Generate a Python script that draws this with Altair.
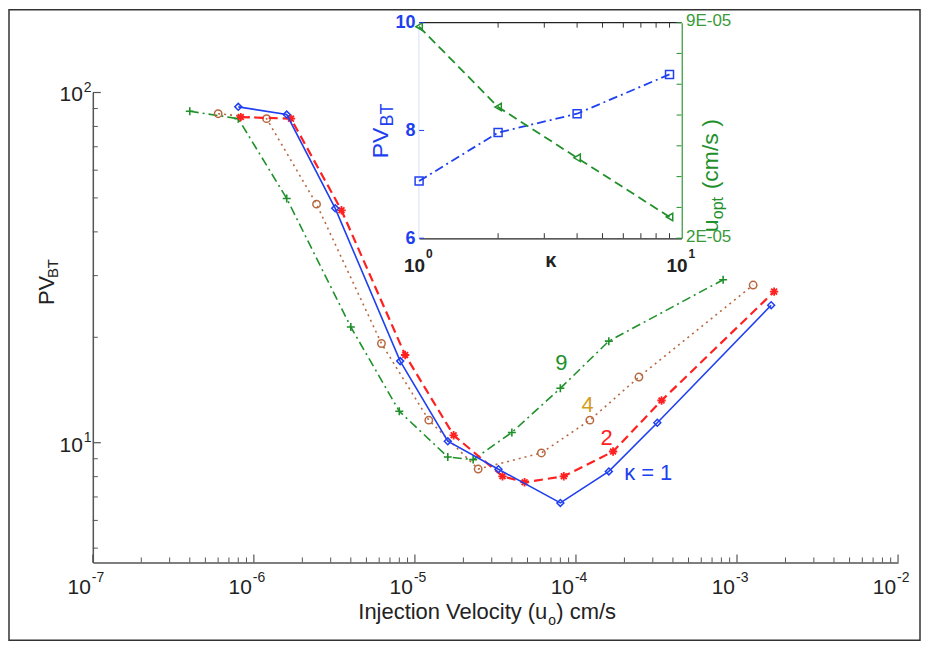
import altair as alt
import pandas as pd

# ---------------- main panel data ----------------
u_k1 = [8.0e-7, 1.6e-6, 3.2e-6, 8.1e-6, 1.6e-5, 3.3e-5, 8.0e-5, 1.6e-4, 3.2e-4, 1.63e-3]
pv_k1 = [91.0, 86.5, 46.7, 17.1, 10.1, 8.4, 6.73, 8.28, 11.4, 24.7]

u_k2 = [8.3e-7, 1.7e-6, 3.5e-6, 8.7e-6, 1.74e-5, 3.5e-5, 4.8e-5, 8.4e-5, 1.7e-4, 3.4e-4, 1.7e-3]
pv_k2 = [85.1, 84.2, 46.1, 17.8, 10.5, 8.02, 7.71, 8.02, 9.44, 13.2, 27.0]

u_k4 = [6.0e-7, 1.2e-6, 2.45e-6, 6.2e-6, 1.22e-5, 2.47e-5, 6.1e-5, 1.22e-4, 2.46e-4, 1.26e-3]
pv_k4 = [87.0, 84.2, 48.0, 19.2, 11.6, 8.41, 9.35, 11.6, 15.4, 28.2]

u_k9 = [4.0e-7, 8.0e-7, 1.6e-6, 4.0e-6, 8.0e-6, 1.6e-5, 2.3e-5, 4.0e-5, 8.0e-5, 1.6e-4, 8.2e-4]
pv_k9 = [88.4, 84.2, 49.8, 21.4, 12.3, 9.10, 8.95, 10.7, 14.3, 19.5, 29.2]

# curve annotations
ann_text = ["9", "4", "2", "κ = 1"]
ann_u = [8.1e-5, 1.18e-4, 1.55e-4, 2.81e-4]
ann_pv = [16.9, 12.8, 10.3, 8.22]

# ---------------- inset data ----------------
kappa = [1, 2, 4, 9]
pv_opt = [7.06, 7.96, 8.31, 9.04]
u_opt = [8.87e-5, 6.26e-5, 4.61e-5, 2.69e-5]

# ---------------- tick labels ----------------
x_major = [1e-7, 1e-6, 1e-5, 1e-4, 1e-3, 1e-2]
x_major_exp = ["-7", "-6", "-5", "-4", "-3", "-2"]
x_minor = [m * 10.0 ** e for e in range(-7, -2) for m in range(2, 10)]
y_major = [10, 100]
y_major_exp = ["1", "2"]
y_minor = [5, 6, 7, 8, 9, 20, 30, 40, 50, 60, 70, 80, 90]
ix_major = [1, 10]
ix_major_exp = ["0", "1"]
ix_minor = [2, 3, 4, 5, 6, 7, 8, 9]
iy_pv_ticks = [6, 8, 10]
iy_u_ticks = [2e-5, 3e-5, 4e-5, 5e-5, 6e-5, 7e-5, 8e-5, 9e-5]

# ---------------- styling ----------------
W, H = 807, 471
FONT = "Liberation Sans, Arial, sans-serif"
BLUE = "#2040f0"
RED = "#ff2020"
BROWN = "#b8683f"
GREEN = "#20902a"
GOLD = "#d69c1c"
AXC = "#555555"
TXT = "#222222"
STAR = "M-1,0L1,0M0,-1L0,1M-0.7,-0.7L0.7,0.7M-0.7,0.7L0.7,-0.7"
PLUS = "M-1,0L1,0M0,-1L0,1"

xs = alt.Scale(type="log", domain=[1e-7, 1e-2], nice=False)
ys = alt.Scale(type="log", domain=[4.55, 100], nice=False)
ixs = alt.Scale(type="log", domain=[1, 10], range=[327, 590], nice=False)
iys_pv = alt.Scale(domain=[6, 10], range=[146, -70], nice=False, zero=False)
iys_u = alt.Scale(domain=[2e-5, 9e-5], range=[146, -70], nice=False, zero=False)

one = pd.DataFrame({"a": [0]})


def X(f, scale=xs, axis=None):
    return alt.X(f, type="quantitative", scale=scale, axis=axis)


def Y(f, scale=ys, axis=None):
    return alt.Y(f, type="quantitative", scale=scale, axis=axis)


ax_main_x = alt.Axis(title=None, labels=False, ticks=False, grid=False,
                     domainColor=AXC, domainWidth=1.5)
ax_main_y = alt.Axis(title=None, labels=False, ticks=False, grid=False,
                     domainColor=AXC, domainWidth=1.5)

layers = []


def series(u, pv, color, shape, size, psw, lw, dash=None, axes=False):
    df = pd.DataFrame({"u": u, "pv": pv})
    lkw = dict(color=color, strokeWidth=lw)
    if dash is not None:
        lkw["strokeDash"] = dash
    line = alt.Chart(df).mark_line(**lkw).encode(
        x=X("u", axis=ax_main_x if axes else None),
        y=Y("pv", axis=ax_main_y if axes else None),
    )
    pts = alt.Chart(df).mark_point(shape=shape, filled=False, size=size,
                                   strokeWidth=psw, color=color, opacity=1).encode(
        x=X("u"), y=Y("pv"))
    return [line, pts]


layers += series(u_k9, pv_k9, GREEN, PLUS, 64, 1.6, 1.6, dash=[9, 4, 2, 4])
layers += series(u_k4, pv_k4, BROWN, "circle", 55, 1.5, 1.6, dash=[2, 4])
layers += series(u_k2, pv_k2, RED, STAR, 70, 1.8, 2.2, dash=[9, 5])
layers += series(u_k1, pv_k1, BLUE, "diamond", 48, 1.5, 1.6, axes=True)

# inward ticks of the main axes
layers.append(alt.Chart(pd.DataFrame({"v": x_major})).mark_rule(color=AXC, strokeWidth=1.2).encode(
    x=X("v"), y=alt.value(H), y2=alt.value(H - 8)))
layers.append(alt.Chart(pd.DataFrame({"v": x_minor})).mark_rule(color=AXC, strokeWidth=1.0).encode(
    x=X("v"), y=alt.value(H), y2=alt.value(H - 5)))
layers.append(alt.Chart(pd.DataFrame({"v": y_major})).mark_rule(color=AXC, strokeWidth=1.2).encode(
    y=Y("v"), x=alt.value(0), x2=alt.value(8)))
layers.append(alt.Chart(pd.DataFrame({"v": y_minor})).mark_rule(color=AXC, strokeWidth=1.0).encode(
    y=Y("v"), x=alt.value(0), x2=alt.value(5)))

# main tick labels 10^n
xl = pd.DataFrame({"v": x_major, "e": x_major_exp, "b": ["10"] * len(x_major)})
layers.append(alt.Chart(xl).mark_text(align="right", baseline="alphabetic", fontSize=21,
                                      font=FONT, color=TXT, dx=-2).encode(
    x=X("v"), y=alt.value(H + 32), text="b:N"))
layers.append(alt.Chart(xl).mark_text(align="left", baseline="alphabetic", fontSize=14,
                                      font=FONT, color=TXT, dx=-1).encode(
    x=X("v"), y=alt.value(H + 20), text="e:N"))
yl = pd.DataFrame({"v": y_major, "e": y_major_exp, "b": ["10"] * len(y_major)})
layers.append(alt.Chart(yl).mark_text(align="right", baseline="alphabetic", fontSize=21,
                                      font=FONT, color=TXT, dy=9).encode(
    y=Y("v"), x=alt.value(-10), text="b:N"))
layers.append(alt.Chart(yl).mark_text(align="left", baseline="alphabetic", fontSize=14,
                                      font=FONT, color=TXT, dy=-1).encode(
    y=Y("v"), x=alt.value(-9), text="e:N"))

# main axis titles
layers.append(alt.Chart(one).mark_text(text="Injection Velocity (u", align="right", baseline="alphabetic",
                                       fontSize=22, font=FONT, color=TXT).encode(
    x=alt.value(W / 2 + 52), y=alt.value(H + 57)))
layers.append(alt.Chart(one).mark_text(text="o", align="left", baseline="alphabetic",
                                       fontSize=14, font=FONT, color=TXT).encode(
    x=alt.value(W / 2 + 53), y=alt.value(H + 63)))
layers.append(alt.Chart(one).mark_text(text=") cm/s", align="left", baseline="alphabetic",
                                       fontSize=22, font=FONT, color=TXT).encode(
    x=alt.value(W / 2 + 61), y=alt.value(H + 57)))
layers.append(alt.Chart(one).mark_text(text="PV", angle=270, align="left", baseline="middle",
                                       fontSize=22, font=FONT, color=TXT).encode(
    x=alt.value(-46), y=alt.value(213)))
layers.append(alt.Chart(one).mark_text(text="BT", angle=270, align="left", baseline="middle",
                                       fontSize=15, font=FONT, color=TXT).encode(
    x=alt.value(-40), y=alt.value(186)))

# curve annotations
ann = pd.DataFrame({"u": ann_u, "pv": ann_pv, "t": ann_text,
                    "c": [GREEN, GOLD, RED, BLUE]})
layers.append(alt.Chart(ann).mark_text(align="center", baseline="middle", fontSize=22,
                                       font=FONT).encode(
    x=X("u"), y=Y("pv"), text="t:N", color=alt.Color("c:N", scale=None)))

# ---------------- inset ----------------
ik = pd.DataFrame({"k": kappa, "pv": pv_opt, "u": u_opt})
layers.append(alt.Chart(one).mark_rect(color="white").encode(
    x=alt.X("lo:Q", scale=ixs, axis=None), x2="hi:Q",
    y=alt.Y("b:Q", scale=iys_pv, axis=None), y2="t:Q").transform_calculate(
    lo="1", hi="10", b="6", t="10"))
layers.append(alt.Chart(one).mark_rule(color="#222222", strokeWidth=1.4).encode(
    x=alt.X("lo:Q", scale=ixs, axis=None), x2="hi:Q",
    y=alt.Y("t:Q", scale=iys_pv, axis=None)).transform_calculate(lo="1", hi="10", t="10"))

ax_ix = alt.Axis(orient="bottom", offset=146 - H, title=None, labels=False, ticks=False,
                 grid=False, domainColor="#222222", domainWidth=1.5)
ax_ipv = alt.Axis(orient="left", offset=-327, title=None, values=[6, 8, 10], ticks=False,
                  grid=False, domainColor="#5f78ff", domainWidth=1.5, labelColor=BLUE,
                  labelFont=FONT, labelFontSize=18, labelFontWeight="bold", labelPadding=4)
ax_iu = alt.Axis(orient="right", offset=590 - W, title=None, values=[2e-5, 9e-5], ticks=False,
                 grid=False, domainColor=GREEN, domainWidth=1.5, labelColor="#3a9a3a",
                 labelFont=FONT, labelFontSize=17, labelPadding=4, labelOffset=-2,
                 labelExpr="replace(upper(format(datum.value, '.0e')), 'E-', 'E-0')")

layers.append(alt.Chart(ik).mark_line(color=BLUE, strokeWidth=1.8, strokeDash=[9, 4, 2, 4]).encode(
    x=alt.X("k:Q", scale=ixs, axis=ax_ix), y=alt.Y("pv:Q", scale=iys_pv, axis=ax_ipv)))
layers.append(alt.Chart(ik).mark_point(shape="square", filled=False, size=64, strokeWidth=1.5,
                                       color=BLUE, opacity=1).encode(
    x=alt.X("k:Q", scale=ixs, axis=None), y=alt.Y("pv:Q", scale=iys_pv, axis=None)))
layers.append(alt.Chart(ik).mark_line(color=GREEN, strokeWidth=1.8, strokeDash=[9, 5]).encode(
    x=alt.X("k:Q", scale=ixs, axis=None), y=alt.Y("u:Q", scale=iys_u, axis=ax_iu)))
layers.append(alt.Chart(ik).mark_point(shape="triangle-left", filled=False, size=55, strokeWidth=1.5,
                                       color=GREEN, opacity=1).encode(
    x=alt.X("k:Q", scale=ixs, axis=None), y=alt.Y("u:Q", scale=iys_u, axis=None)))

# inset ticks
layers.append(alt.Chart(pd.DataFrame({"v": ix_minor})).mark_rule(color="#333333", strokeWidth=1).encode(
    x=alt.X("v:Q", scale=ixs, axis=None), y=alt.value(146), y2=alt.value(141)))
layers.append(alt.Chart(pd.DataFrame({"v": ix_minor})).mark_rule(color="#333333", strokeWidth=1).encode(
    x=alt.X("v:Q", scale=ixs, axis=None), y=alt.value(-70), y2=alt.value(-65)))
layers.append(alt.Chart(pd.DataFrame({"v": iy_pv_ticks})).mark_rule(color=BLUE, strokeWidth=1).encode(
    y=alt.Y("v:Q", scale=iys_pv, axis=None), x=alt.value(327), x2=alt.value(332)))
layers.append(alt.Chart(pd.DataFrame({"v": iy_u_ticks})).mark_rule(color=GREEN, strokeWidth=1).encode(
    y=alt.Y("v:Q", scale=iys_u, axis=None), x=alt.value(590), x2=alt.value(585)))

# inset x labels
ixl = pd.DataFrame({"v": ix_major, "e": ix_major_exp, "b": ["10"] * len(ix_major)})
layers.append(alt.Chart(ixl).mark_text(align="right", baseline="alphabetic", fontSize=19,
                                       fontWeight="bold", font=FONT, color=TXT, dx=6).encode(
    x=alt.X("v:Q", scale=ixs, axis=None), y=alt.value(180), text="b:N"))
layers.append(alt.Chart(ixl).mark_text(align="left", baseline="alphabetic", fontSize=12,
                                       fontWeight="bold", font=FONT, color=TXT, dx=7).encode(
    x=alt.X("v:Q", scale=ixs, axis=None), y=alt.value(166), text="e:N"))
layers.append(alt.Chart(one).mark_text(text="κ", align="center", baseline="middle", fontSize=20,
                                       fontWeight="bold", font=FONT, color=TXT).encode(
    x=alt.value(459), y=alt.value(169)))
# inset axis titles
layers.append(alt.Chart(one).mark_text(text="PV", angle=270, align="left", baseline="middle",
                                       fontSize=23, font=FONT, color=BLUE).encode(
    x=alt.value(289), y=alt.value(66)))
layers.append(alt.Chart(one).mark_text(text="BT", angle=270, align="left", baseline="middle",
                                       fontSize=18, font=FONT, color=BLUE).encode(
    x=alt.value(296), y=alt.value(34)))
layers.append(alt.Chart(one).mark_text(text="u", angle=270, align="left", baseline="middle",
                                       fontSize=23, font=FONT, color=GREEN).encode(
    x=alt.value(620), y=alt.value(140)))
layers.append(alt.Chart(one).mark_text(text="opt", angle=270, align="left", baseline="middle",
                                       fontSize=16, font=FONT, color=GREEN).encode(
    x=alt.value(627), y=alt.value(127)))
layers.append(alt.Chart(one).mark_text(text="(cm/s )", angle=270, align="left", baseline="middle",
                                       fontSize=23, font=FONT, color=GREEN).encode(
    x=alt.value(620), y=alt.value(97)))

# figure border
layers.append(alt.Chart(one).mark_rect(fillOpacity=0, stroke="#333333", strokeWidth=1.5).encode(
    x=alt.value(-84), x2=alt.value(829), y=alt.value(-83), y2=alt.value(549)))

chart = alt.layer(*layers).resolve_scale(
    x="independent", y="independent", color="independent"
).properties(
    width=W, height=H,
    padding={"left": 85, "top": 84, "right": 24, "bottom": 80},
    autosize=alt.AutoSizeParams(type="none"),
).configure_view(stroke=None)

chart.save("out.html", embed_options={"renderer": "svg", "actions": False})
